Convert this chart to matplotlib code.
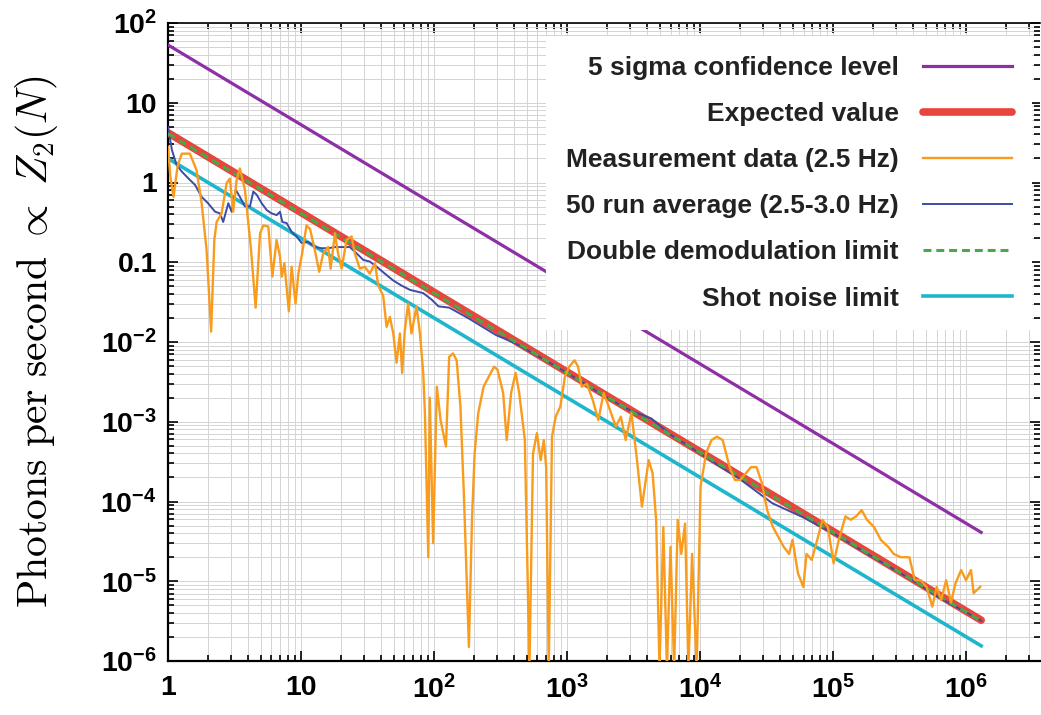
import numpy as np
import matplotlib
matplotlib.use("Agg")
import matplotlib.pyplot as plt

plt.rcParams['font.family'] = ['Liberation Sans', 'DejaVu Sans']
plt.rcParams['font.weight'] = 'bold'
plt.rcParams['mathtext.fontset'] = 'custom'
plt.rcParams['mathtext.rm'] = 'Liberation Sans:bold'
plt.rcParams['mathtext.bf'] = 'Liberation Sans:bold'
plt.rcParams['mathtext.it'] = 'Liberation Sans:bold'

line_n = [1, 1.3e6]
sigma5 = [53, 4.1e-5]
expected = [4.2, 3.25e-6]
double_demod = [4.1, 3.17e-6]
shot_noise = [2.0, 1.55e-6]

meas_n = [1.0, 1.04, 1.10, 1.18, 1.27, 1.46, 1.64, 1.79, 1.95, 2.11, 2.23, 2.32, 2.53, 2.76, 2.92,
          3.09, 3.28, 3.47, 3.79, 4.21, 4.56, 4.92, 5.21, 5.68, 6.09, 6.55, 6.95, 7.16, 7.5, 8.1,
          8.5, 9.1, 9.55, 10.2, 11.0, 11.7, 12.7, 13.7, 14.7, 16.0, 16.7, 18.0, 19.0, 20.2, 22.0,
          24.0, 25.4, 27.7, 30.2, 32.9, 36.0, 38.1, 41.5, 44.0, 46.6, 49.4, 52.3, 55.4, 57.6, 60.3,
          63.9, 67.7, 73.9, 78.4, 83.0, 85.4, 90.6, 93.0, 98.5, 105, 112, 123, 130, 139, 148,
          158, 168, 183, 193, 202, 215, 236, 258, 283, 300, 331, 352, 380, 411, 437,
          482, 522, 555, 594, 634, 669, 697, 729, 771, 822, 891, 965, 1039, 1139, 1212,
          1289, 1409, 1558, 1720, 1886, 2060, 2330, 2540, 2760, 3050, 3340, 3660, 3880, 4110, 4400,
          4680, 4960, 5300, 5640, 6000, 6390, 6800, 7230, 7720, 8180, 8720, 9440, 10100, 11100, 12200,
          13400, 14800, 16700, 18300, 20100, 22100, 24200, 26600, 29200, 32000, 35300, 38800, 42600, 46800, 49600,
          54500, 59800, 63200, 69200, 76100, 83400, 91400, 101000, 110500, 124000, 136000, 149000, 164000, 180000, 203000,
          229000, 260000, 286000, 323000, 375000, 412000, 455000, 505000, 558000, 602000, 651000, 709000, 771000, 833000, 919000,
          1.0e6, 1.09e6, 1.14e6, 1.28e6]
meas_val = [2.8, 1.2, 0.66, 1.6, 2.3, 2.3, 1.43, 0.55, 0.143, 0.0135, 0.19, 0.32, 0.41, 0.98, 1.12,
            0.43, 1.07, 1.5, 0.81, 0.143, 0.027, 0.23, 0.29, 0.28, 0.066, 0.19, 0.118, 0.066, 0.097, 0.0243,
            0.088, 0.0304, 0.072, 0.129, 0.29, 0.26, 0.143, 0.076, 0.129, 0.155, 0.083, 0.23, 0.129, 0.083, 0.19,
            0.21, 0.129, 0.083, 0.088, 0.072, 0.097, 0.051, 0.038, 0.0155, 0.0206, 0.0128, 0.0055, 0.0128, 0.0041, 0.0139,
            0.0304, 0.0128, 0.028, 0.0128, 0.0041, 0.0013, 2.0e-5, 0.0020, 3.0e-5, 0.00275, 0.00105, 0.00049, 0.0065, 0.0072, 0.0059,
            0.00155, 0.000115, 1.5e-6, 5.9e-5, 0.0004, 0.00128, 0.00275, 0.00367, 0.0049, 0.0045, 0.0023, 0.00059, 0.0023, 0.0041, 0.0023,
            0.00059, 8e-7, 0.0004, 0.00072, 0.00033, 0.00059, 0.00027, 8e-7, 0.00065, 0.00116, 0.00155, 0.0037, 0.0049, 0.0059, 0.0049,
            0.00275, 0.003, 0.0019, 0.00105, 0.0023, 0.00155, 0.00087, 0.00116, 0.00059, 0.00128, 0.00036, 8.6e-5, 0.00017, 0.00033, 0.000226,
            5.9e-5, 8e-7, 4.8e-5, 8e-7, 2.7e-5, 8e-7, 5.9e-5, 2.2e-5, 5.3e-5, 8e-7, 2.2e-5, 8e-7, 0.000155, 0.0004, 0.00059,
            0.00065, 0.00059, 0.00027, 0.000186, 0.000186, 0.000226, 0.00027, 0.00027, 0.00017, 7.8e-5, 4.8e-5, 3.6e-5, 2.7e-5, 2.2e-5, 3.3e-5,
            1.26e-5, 8.5e-6, 2.2e-5, 1.85e-5, 3.3e-5, 5.9e-5, 4.8e-5, 1.68e-5, 3.3e-5, 6.5e-5, 5.9e-5, 6.5e-5, 7.8e-5, 5.9e-5, 4.8e-5,
            3.3e-5, 2.7e-5, 2.2e-5, 2.0e-5, 2.0e-5, 1.03e-5, 1.03e-5, 8.5e-6, 4.8e-6, 8.5e-6, 5.8e-6, 1.03e-5, 5.4e-6, 9.4e-6, 1.38e-5,
            1.03e-5, 1.38e-5, 7.1e-6, 8.5e-6]

# 50 run average (2.5-3.0 Hz)
avg_n = [1.0, 1.07, 1.16, 1.27, 1.42, 1.6, 1.79, 2.0, 2.26, 2.46, 2.6, 2.84, 3.01, 3.23, 3.47,
         3.79, 4.13, 4.38, 4.65, 5.06, 5.53, 6.01, 6.56, 6.95, 7.24, 7.8, 8.5, 9.27, 10.1, 11.3,
         12.7, 14.3, 16.0, 18.0, 20.2, 23.3, 26.2, 29.4, 32.9, 37.0, 42.7, 49.4, 57, 66, 74,
         83, 96, 108, 130, 180, 293, 400, 700, 1000, 2000, 3000, 4300, 6000, 10000, 20000,
         35000, 60000, 100000, 200000, 400000, 600000, 800000, 1.3e6]
avg_val = [5.0, 2.56, 1.66, 1.37, 1.13, 0.93, 0.66, 0.55, 0.43, 0.41, 0.32, 0.55, 0.43, 0.81, 0.66,
           0.50, 0.50, 0.77, 0.70, 0.55, 0.45, 0.41, 0.39, 0.43, 0.32, 0.31, 0.24, 0.21, 0.175, 0.18,
           0.155, 0.15, 0.15, 0.155, 0.155, 0.155, 0.129, 0.107, 0.102, 0.088, 0.072, 0.059, 0.051, 0.045, 0.043,
           0.041, 0.034, 0.028, 0.027, 0.02, 0.0122, 0.0098, 0.0058, 0.0041, 0.0020, 0.00138, 0.0011, 0.00069, 0.0004, 0.00019,
           9.5e-5, 6.3e-5, 4.0e-5, 2.0e-5, 1.02e-5, 6.5e-6, 5.0e-6, 3.2e-6]

xtick_vals = [1, 10, 1e2, 1e3, 1e4, 1e5, 1e6]
xtick_labels = ['1', '10', r'$10^{2}$', r'$10^{3}$', r'$10^{4}$', r'$10^{5}$', r'$10^{6}$']
ytick_vals = [1e-6, 1e-5, 1e-4, 1e-3, 1e-2, 0.1, 1, 10, 100]
ytick_labels = [r'$10^{-6}$', r'$10^{-5}$', r'$10^{-4}$', r'$10^{-3}$', r'$10^{-2}$', '0.1', '1', '10', r'$10^{2}$']

fig = plt.figure(figsize=(10.41, 7.15), dpi=100)
ax = fig.add_axes([168/1041, 1-661/715, (1040-168)/1041, (661-23)/715])

ax.plot(line_n, sigma5, color='#8e2fa6', lw=2.3, zorder=3, label='5 sigma confidence level')
ax.plot(line_n, expected, color='#e8453c', lw=5.5, zorder=3, solid_capstyle='round', label='Expected value')
ax.plot(meas_n, meas_val, color='#f99b1c', lw=1.7, zorder=6, label='Measurement data (2.5 Hz)')
ax.plot(avg_n, avg_val, color='#3d4aa6', lw=1.4, zorder=4, label='50 run average (2.5-3.0 Hz)')
ax.plot(line_n, double_demod, color='#4aa84a', lw=2.2, ls=(0, (2.6, 1.6)), zorder=5, label='Double demodulation limit')
ax.plot(line_n, shot_noise, color='#1db6cc', lw=2.6, zorder=3, label='Shot noise limit')

ax.set_xscale('log')
ax.set_yscale('log')
ax.set_xlim(1, 3.6e6)
ax.set_ylim(1e-6, 100)

ax.set_xticks(xtick_vals, xtick_labels)
ax.set_yticks(ytick_vals, ytick_labels)
ax.tick_params(which='both', direction='in', top=True, right=True, width=1.2, labelsize=20.5)
ax.tick_params(axis='x', pad=10)
ax.tick_params(axis='y', pad=8)
ax.tick_params(which='major', length=7.5)
ax.tick_params(which='minor', length=4)
for lab in ax.get_xticklabels() + ax.get_yticklabels():
    lab.set_fontweight('bold')

ax.grid(True, which='both', color='#d4d4d4', lw=0.7)
ax.set_axisbelow(True)
ax.spines['right'].set_visible(False)
ax.spines['left'].set_linewidth(1.6)
ax.spines['bottom'].set_linewidth(1.6)
ax.spines['top'].set_linewidth(1.2)

ax.set_ylabel(r'$\mathrm{Photons\ per\ second}\ \propto\ Z_2(N)$', math_fontfamily='cm', fontsize=30)
ax.yaxis.set_label_coords(-0.124, 0.5)

leg = ax.legend(loc='upper right', bbox_to_anchor=(1.0, 0.992), markerfirst=False, fontsize=19,
                handlelength=3.4, handletextpad=0.9, labelspacing=0.84, borderpad=0.75,
                borderaxespad=0.3, frameon=True, framealpha=1, edgecolor='none', fancybox=False)
for t in leg.get_texts():
    t.set_color('#222222')

plt.savefig('out.png', dpi=100)
